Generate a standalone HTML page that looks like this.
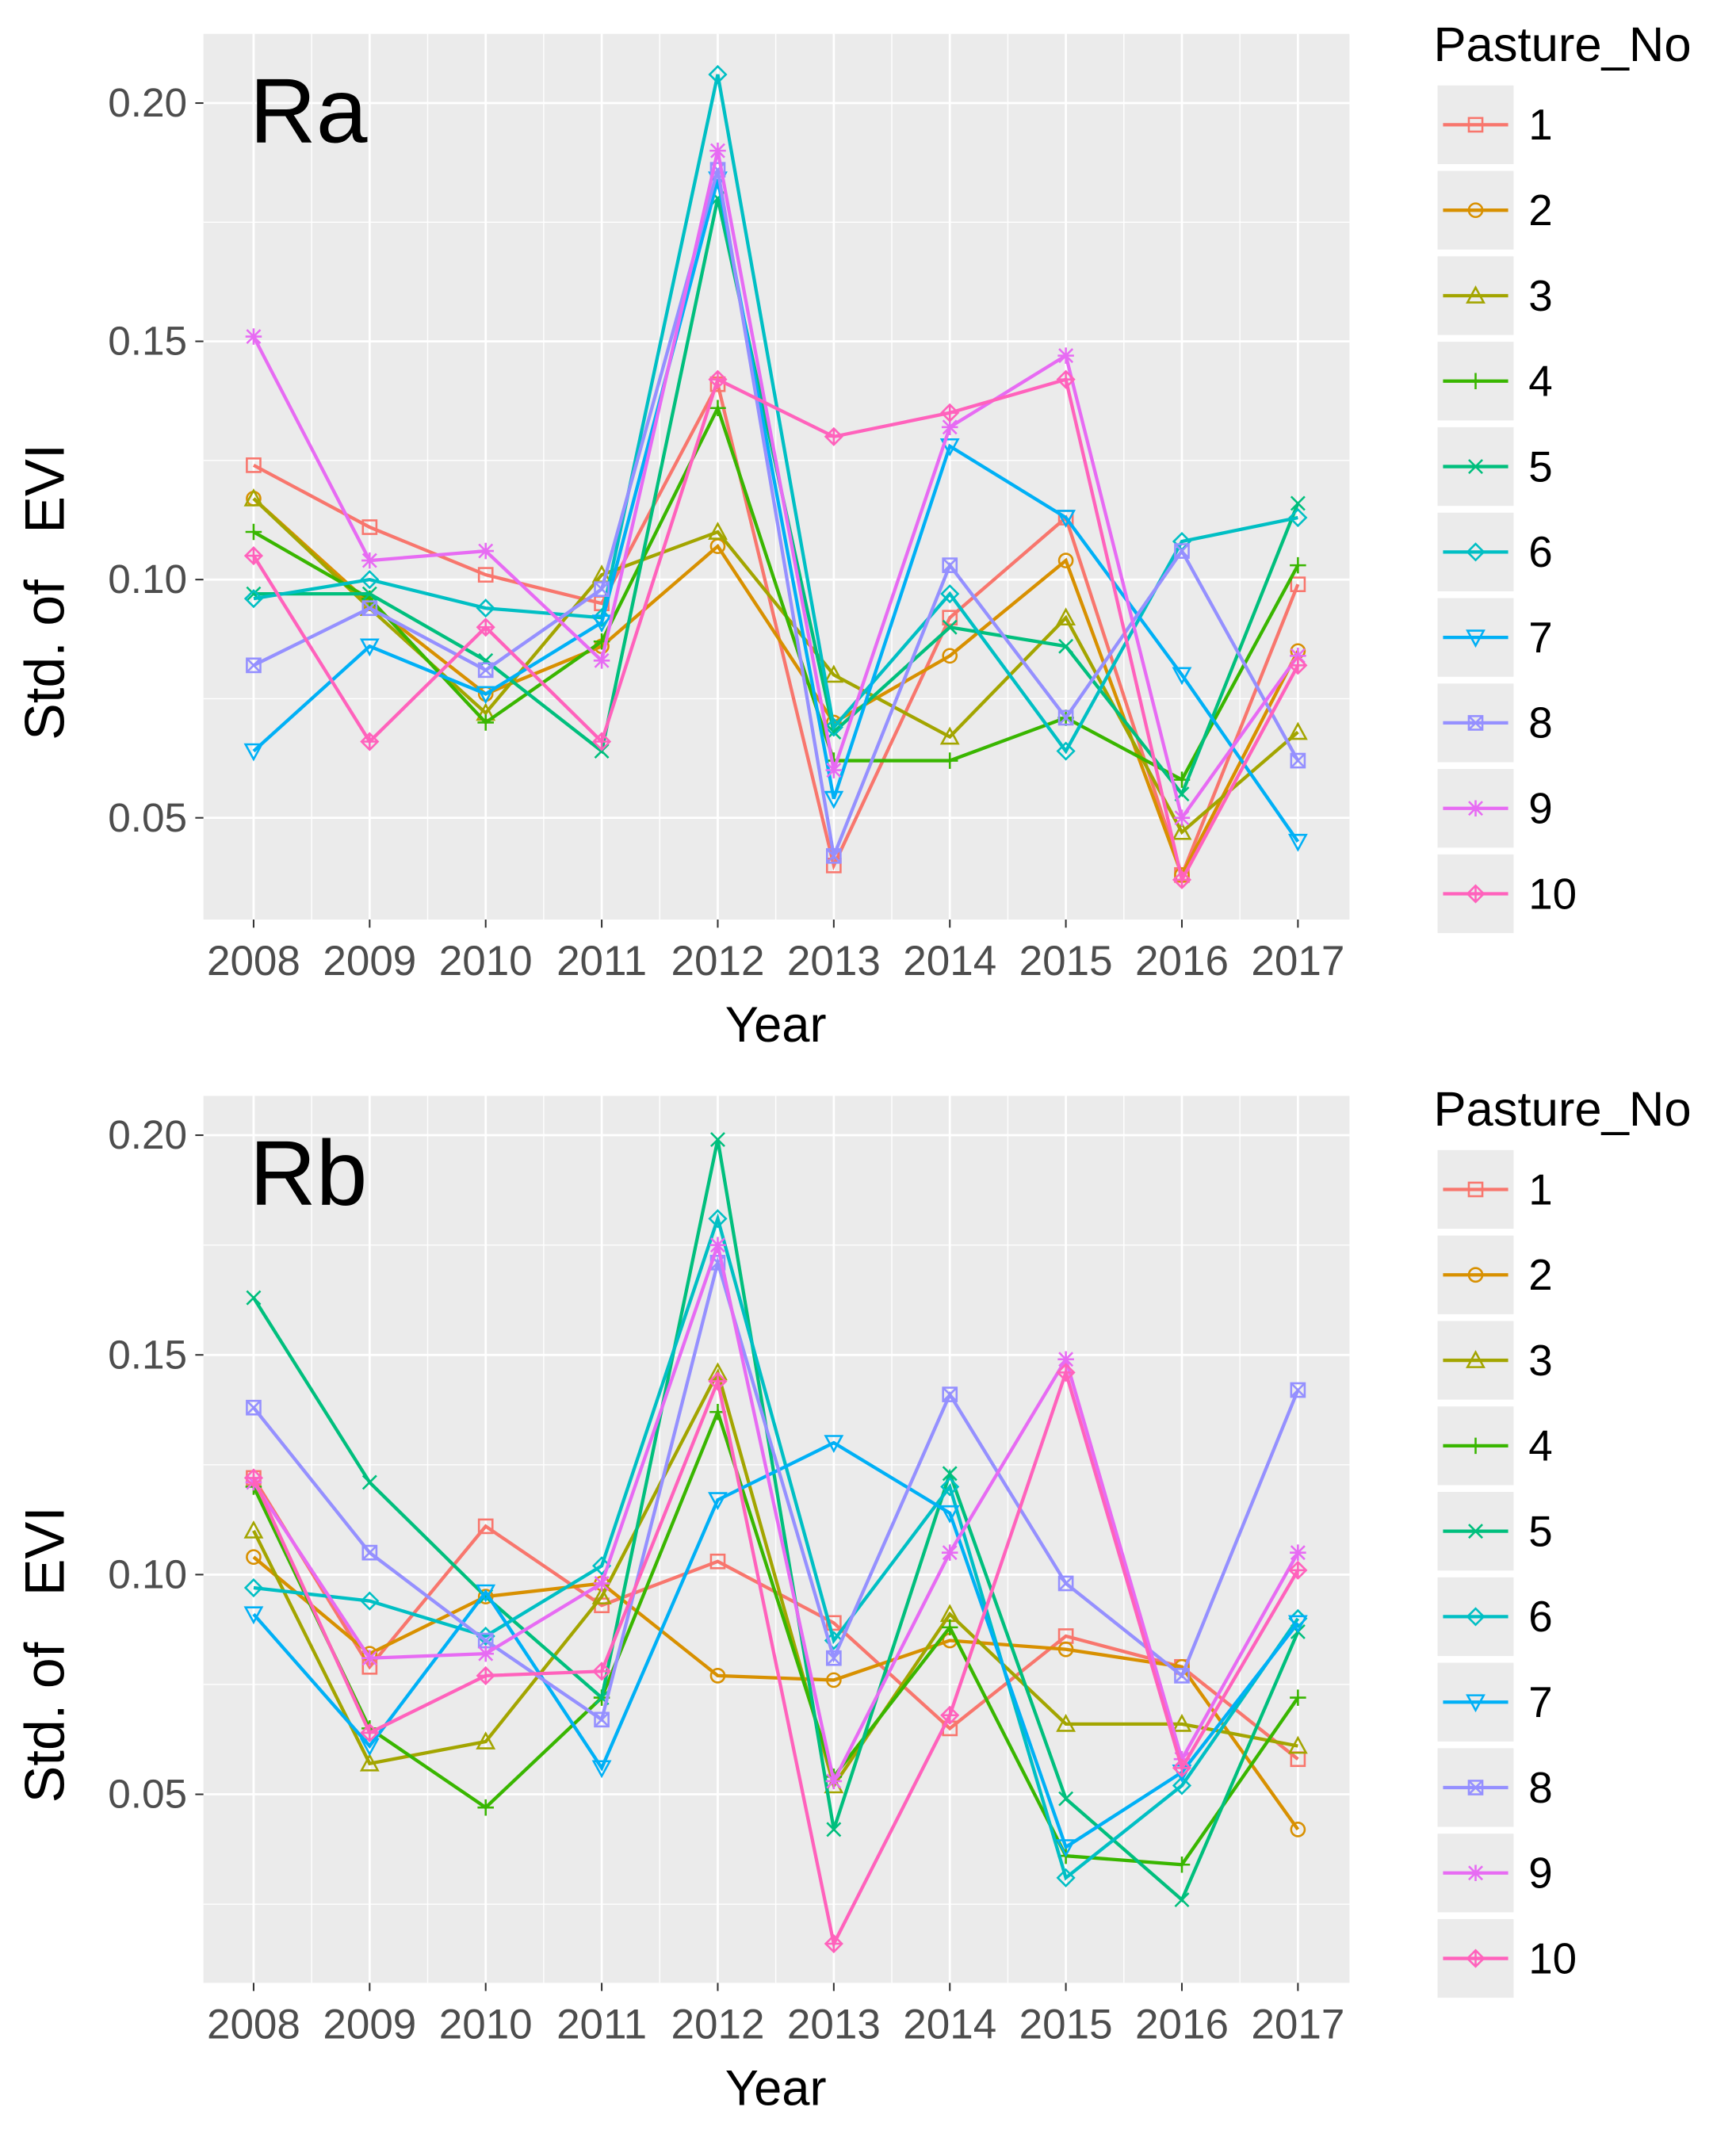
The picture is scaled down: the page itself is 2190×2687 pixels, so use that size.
<!DOCTYPE html>
<html><head><meta charset="utf-8"><style>
html,body{margin:0;padding:0;background:#fff}
svg{display:block}
text{font-family:"Liberation Sans",Arial,sans-serif}
</style></head><body>
<svg id="chart" width="2190" height="2687" viewBox="0 0 1280 1570.5" preserveAspectRatio="none" xmlns="http://www.w3.org/2000/svg"></svg>
<script>
const years = [2008,2009,2010,2011,2012,2013,2014,2015,2016,2017];
const pastures = ['1','2','3','4','5','6','7','8','9','10'];
const yTicks = [0.05,0.10,0.15,0.20];
const yTickLabels = ['0.05','0.10','0.15','0.20'];
const ra1 = [.124,.111,.101,.095,.141,.040,.092,.113,.038,.099];
const ra2 = [.117,.095,.076,.086,.107,.070,.084,.104,.038,.085];
const ra3 = [.117,.094,.072,.101,.110,.080,.067,.092,.047,.068];
const ra4 = [.110,.096,.070,.087,.136,.062,.062,.071,.058,.103];
const ra5 = [.097,.097,.083,.064,.180,.068,.090,.086,.055,.116];
const ra6 = [.096,.100,.094,.092,.206,.069,.097,.064,.108,.113];
const ra7 = [.064,.086,.076,.091,.184,.054,.128,.113,.080,.045];
const ra8 = [.082,.094,.081,.098,.186,.042,.103,.071,.106,.062];
const ra9 = [.151,.104,.106,.083,.190,.060,.132,.147,.050,.084];
const ra10 = [.105,.066,.090,.066,.142,.130,.135,.142,.037,.082];
const rb1 = [.122,.079,.111,.093,.103,.089,.065,.086,.079,.058];
const rb2 = [.104,.082,.095,.098,.077,.076,.085,.083,.079,.042];
const rb3 = [.110,.057,.062,.095,.146,.052,.091,.066,.066,.061];
const rb4 = [.120,.065,.047,.072,.137,.054,.088,.036,.034,.072];
const rb5 = [.163,.121,.095,.072,.199,.042,.123,.049,.026,.087];
const rb6 = [.097,.094,.086,.102,.181,.085,.120,.031,.052,.090];
const rb7 = [.091,.061,.096,.056,.117,.130,.114,.038,.055,.089];
const rb8 = [.138,.105,.085,.067,.171,.081,.141,.098,.077,.142];
const rb9 = [.121,.081,.082,.098,.175,.053,.105,.149,.058,.105];
const rb10 = [.122,.064,.077,.078,.144,.016,.068,.146,.056,.101];
const raSeries = [ra1,ra2,ra3,ra4,ra5,ra6,ra7,ra8,ra9,ra10];
const rbSeries = [rb1,rb2,rb3,rb4,rb5,rb6,rb7,rb8,rb9,rb10];

const colors = ['#F8766D','#D89000','#A3A500','#39B600','#00BF7D','#00BFC4','#00B0F6','#9590FF','#E76BF3','#FF62BC'];
const NS = 'http://www.w3.org/2000/svg';
const svg = document.getElementById('chart');
function mk(tag, attrs, parent){const e=document.createElementNS(NS,tag);for(const k in attrs)e.setAttribute(k,attrs[k]);(parent||svg).appendChild(e);return e;}

function marker(g, shape, x, y, c){
  const s=5, st={fill:'none',stroke:c,'stroke-width':1.5};
  let e;
  if(shape===0||shape===7){e=mk('rect',Object.assign({x:x-s,y:y-s,width:2*s,height:2*s},st),g);
    if(shape===7){mk('path',Object.assign({d:`M${x-s} ${y-s}L${x+s} ${y+s}M${x-s} ${y+s}L${x+s} ${y-s}`},st),g);}}
  else if(shape===1){e=mk('circle',Object.assign({cx:x,cy:y,r:s},st),g);}
  else if(shape===2){e=mk('path',Object.assign({d:`M${x} ${y-s-1}L${x+s+1} ${y+s}L${x-s-1} ${y+s}Z`},st),g);}
  else if(shape===6){e=mk('path',Object.assign({d:`M${x} ${y+s+1}L${x+s+1} ${y-s}L${x-s-1} ${y-s}Z`},st),g);}
  else if(shape===3){e=mk('path',Object.assign({d:`M${x-s-1} ${y}L${x+s+1} ${y}M${x} ${y-s-1}L${x} ${y+s+1}`},st),g);}
  else if(shape===4){e=mk('path',Object.assign({d:`M${x-s} ${y-s}L${x+s} ${y+s}M${x-s} ${y+s}L${x+s} ${y-s}`},st),g);}
  else if(shape===5||shape===9){e=mk('path',Object.assign({d:`M${x} ${y-s-1}L${x+s+1} ${y}L${x} ${y+s+1}L${x-s-1} ${y}Z`},st),g);
    if(shape===9){mk('path',Object.assign({d:`M${x-s-1} ${y}L${x+s+1} ${y}M${x} ${y-s-1}L${x} ${y+s+1}`},st),g);}}
  else if(shape===8){e=mk('path',Object.assign({d:`M${x-s-1} ${y}L${x+s+1} ${y}M${x} ${y-s-1}L${x} ${y+s+1}M${x-s} ${y-s}L${x+s} ${y+s}M${x-s} ${y+s}L${x+s} ${y-s}`},st),g);}
  return e;
}

function panel(cfg){
  const {name, series, top, bottom, yAt020, yAt005, label, legendTop} = cfg;
  const L=150, R=995;
  const xScale = i => 187 + i*(957-187)/9;
  const yScale = v => yAt005 + (v-0.05)*(yAt020-yAt005)/0.15;
  const g = mk('g',{});
  
  
  const bg = mk('rect',{x:L,y:top,width:R-L,height:bottom-top,fill:'#EBEBEB'},g);
  
  
  for(let i=0;i<9;i++){const x=(xScale(i)+xScale(i+1))/2;mk('line',{x1:x,x2:x,y1:top,y2:bottom,stroke:'#fff','stroke-width':0.8},g);}
  for(let v=0.025; v<0.23; v+=0.05){const y=yScale(v); if(y>top&&y<bottom) mk('line',{x1:L,x2:R,y1:y,y2:y,stroke:'#fff','stroke-width':0.8},g);}
  years.forEach((yr,i)=>{const x=xScale(i);mk('line',{x1:x,x2:x,y1:top,y2:bottom,stroke:'#fff','stroke-width':1.6},g);
    mk('line',{x1:x,x2:x,y1:bottom,y2:bottom+6,stroke:'#333','stroke-width':1.2},g);
    const t=mk('text',{x:x,y:bottom+41,'text-anchor':'middle','font-size':31,fill:'#4D4D4D'},g);t.textContent=yr;
    
    });
  yTicks.forEach((v,i)=>{const y=yScale(v);mk('line',{x1:L,x2:R,y1:y,y2:y,stroke:'#fff','stroke-width':1.6},g);
    mk('line',{x1:L-6,x2:L,y1:y,y2:y,stroke:'#333','stroke-width':1.2},g);
    const t=mk('text',{x:L-12,y:y+10,'text-anchor':'end','font-size':30,fill:'#4D4D4D'},g);t.textContent=yTickLabels[i];
    
    });
  series.forEach((vals,s)=>{
    const sg=mk('g',{},g);
    
    
    const pts=vals.map((v,i)=>xScale(i)+','+yScale(v)).join(' ');
    mk('polyline',{points:pts,fill:'none',stroke:colors[s],'stroke-width':2.5},sg);
    vals.forEach((v,i)=>{const m=marker(sg,s,xScale(i),yScale(v),colors[s]);
      
      });
  });
  const pl=mk('text',{x:184,y:top+80,'font-size':68,fill:'#000'},g);pl.textContent=label;
  
  
  const xt=mk('text',{x:572,y:bottom+90,'text-anchor':'middle','font-size':37,fill:'#000'},g);xt.textContent='Year';
  
  
  const yc=(top+bottom)/2+85;
  const yt=mk('text',{x:0,y:0,transform:`translate(47,${yc}) rotate(-90)`,'text-anchor':'middle','font-size':41,fill:'#000'},g);yt.textContent='Std.\u00a0of\u00a0\u00a0\u00a0EVI';
  
  
  const lg=mk('g',{},g);
  
  
  const lt=mk('text',{x:1057,y:legendTop+13,'font-size':36,fill:'#000'},lg);lt.textContent='Pasture_No';
  
  
  pastures.forEach((p,s)=>{
    const cy=legendTop+60+s*63;
    const eg=mk('g',{},lg);
    
    
    mk('rect',{x:1059,y:cy-30,width:58,height:60,fill:'#EBEBEB',stroke:'#fff','stroke-width':2},eg);
    mk('line',{x1:1064,x2:1112,y1:cy,y2:cy,stroke:colors[s],'stroke-width':2.5},eg);
    marker(eg,s,1088,cy,colors[s]);
    const t=mk('text',{x:1127,y:cy+11,'font-size':32,fill:'#000'},eg);t.textContent=p;
  });
}
panel({name:'ra',series:raSeries,top:25,bottom:678,yAt020:76,yAt005:603,label:'Ra',legendTop:32});
panel({name:'rb',series:rbSeries,top:808,bottom:1462,yAt020:837,yAt005:1323,label:'Rb',legendTop:817});
</script>
</body></html>
